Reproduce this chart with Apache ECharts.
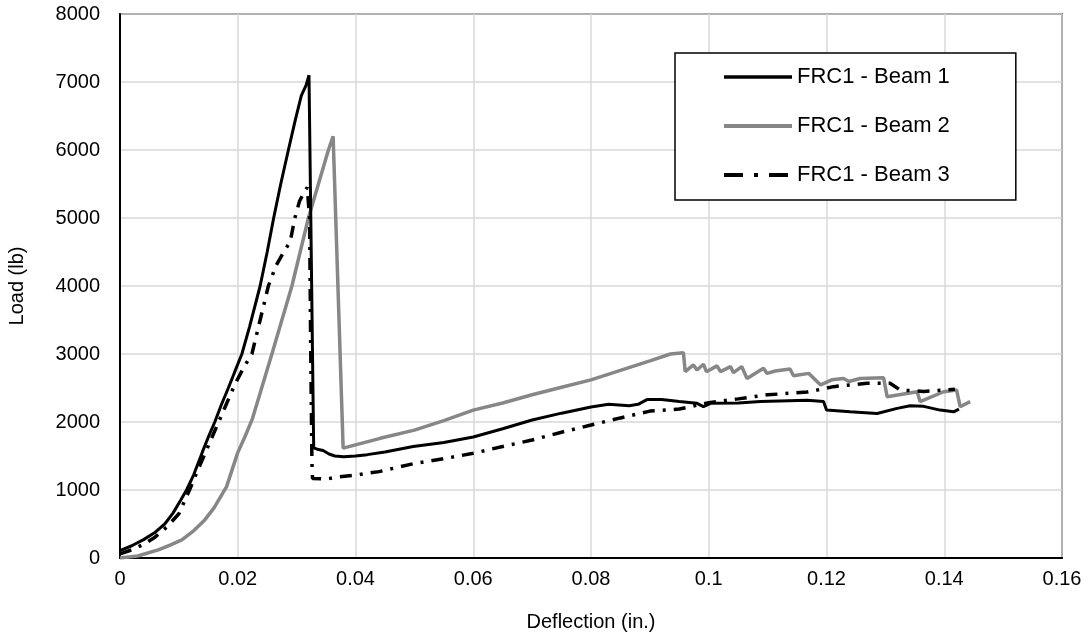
<!DOCTYPE html>
<html>
<head>
<meta charset="utf-8">
<script src="https://cdn.jsdelivr.net/npm/echarts@6/dist/echarts.min.js"></script>
<style>
  html, body { margin: 0; padding: 0; background: #fff; }
  #chart { width: 1088px; height: 641px; }
</style>
</head>
<body>
<div id="chart"></div>
<script>
// Series names
const seriesNames = ['FRC1 - Beam 1', 'FRC1 - Beam 2', 'FRC1 - Beam 3'];

// Deflection (in.), Load (lb) pairs
const beam1 = [
  [0,110],[0.002,180],[0.004,270],[0.006,380],[0.0076,500],[0.009,660],[0.0103,850],[0.0113,1000],
  [0.0125,1220],[0.014,1560],[0.0152,1820],[0.0161,2000],[0.0172,2250],[0.0184,2500],[0.0195,2740],
  [0.0207,3000],[0.022,3400],[0.0238,4000],[0.025,4500],[0.0261,5000],[0.0273,5500],[0.0286,6000],
  [0.0298,6450],[0.0308,6800],[0.0316,6950],[0.0321,7100],[0.0329,1620],[0.0335,1600],[0.0345,1580],
  [0.0355,1530],[0.0365,1500],[0.038,1490],[0.04,1500],[0.042,1520],[0.045,1560],[0.0498,1640],
  [0.055,1700],[0.06,1780],[0.065,1900],[0.07,2030],[0.075,2130],[0.08,2220],[0.083,2260],
  [0.0865,2240],[0.088,2260],[0.0895,2330],[0.092,2330],[0.095,2300],[0.098,2275],[0.0991,2225],
  [0.1003,2275],[0.105,2280],[0.1088,2300],[0.1167,2320],[0.1195,2300],[0.12,2175],[0.124,2150],
  [0.1286,2125],[0.132,2200],[0.1342,2240],[0.1365,2230],[0.1393,2175],[0.1416,2150],[0.1425,2190]
];
const beam2 = [
  [0,0],[0.003,30],[0.0065,120],[0.0085,190],[0.0105,265],[0.0125,400],[0.0144,560],[0.016,740],
  [0.0181,1050],[0.02,1550],[0.0212,1780],[0.0225,2050],[0.024,2480],[0.0258,3000],[0.0275,3500],
  [0.0292,4000],[0.0306,4500],[0.032,5000],[0.0337,5500],[0.0354,6000],[0.0362,6200],[0.0379,1615],
  [0.0442,1760],[0.05,1880],[0.055,2020],[0.06,2175],[0.065,2280],[0.07,2400],[0.075,2510],
  [0.08,2620],[0.085,2760],[0.09,2900],[0.0935,3000],[0.0957,3020],[0.096,2740],[0.0974,2840],
  [0.098,2765],[0.0991,2850],[0.0996,2740],[0.1014,2825],[0.102,2740],[0.1037,2815],[0.1042,2725],
  [0.1056,2815],[0.1065,2640],[0.1093,2790],[0.1099,2715],[0.1113,2750],[0.1138,2780],[0.1144,2680],
  [0.117,2715],[0.119,2545],[0.1209,2620],[0.1229,2640],[0.1238,2595],[0.1257,2640],[0.1297,2650],
  [0.1303,2370],[0.1354,2445],[0.1359,2300],[0.1399,2445],[0.1421,2470],[0.1427,2225],[0.1444,2300]
];
const beam3 = [
  [0,60],[0.002,120],[0.004,200],[0.006,310],[0.008,460],[0.01,650],[0.0118,1000],[0.0135,1350],
  [0.015,1650],[0.0165,1950],[0.018,2250],[0.0195,2550],[0.021,2800],[0.0224,3000],[0.0238,3500],
  [0.0252,4000],[0.0265,4300],[0.0278,4500],[0.0289,4650],[0.0297,5000],[0.0305,5250],[0.0314,5400],
  [0.0318,5450],[0.0322,5000],[0.0324,3000],[0.0326,1400],[0.0327,1170],[0.035,1160],[0.037,1190],
  [0.04,1220],[0.044,1270],[0.05,1390],[0.055,1460],[0.06,1540],[0.065,1640],[0.07,1735],
  [0.075,1850],[0.08,1955],[0.085,2060],[0.09,2160],[0.095,2190],[0.1,2285],[0.105,2340],
  [0.11,2400],[0.1167,2440],[0.1212,2520],[0.1269,2570],[0.1308,2570],[0.1325,2470],[0.1365,2450],
  [0.14,2470],[0.1418,2480]
];

// Axis settings
const xTicks = { min: 0, max: 0.16, interval: 0.02 };
const yTicks = { min: 0, max: 8000, interval: 1000 };

const FONT = 'Liberation Sans, Arial, sans-serif';
const TICK_FS = 20;
const chart = echarts.init(document.getElementById('chart'), null, { renderer: 'canvas' });

chart.setOption({
  animation: false,
  backgroundColor: '#fff',
  textStyle: { fontFamily: FONT, color: '#000' },
  grid: { left: 120, right: 26, top: 14, bottom: 83, show: true, borderColor: '#000', borderWidth: 1.5,
          containLabel: false, outerBoundsMode: 'none' },
  legend: {
    orient: 'vertical',
    left: 675, top: 53,
    padding: [13, 66, 14, 47],
    itemWidth: 68, itemHeight: 20, itemGap: 27,
    borderColor: '#000', borderWidth: 1.5,
    backgroundColor: '#fff',
    itemStyle: { opacity: 0 },
    textStyle: { fontFamily: FONT, fontSize: 22, color: '#000' },
    data: [
      { name: seriesNames[0], lineStyle: { width: 3.5 } },
      { name: seriesNames[1], lineStyle: { width: 4 } },
      { name: seriesNames[2], lineStyle: { width: 4, type: [19, 11, 4, 11] } }
    ]
  },
  xAxis: {
    type: 'value', min: xTicks.min, max: xTicks.max, interval: xTicks.interval,
    name: 'Deflection (in.)', nameLocation: 'middle', nameGap: 54,
    nameTextStyle: { fontFamily: FONT, fontSize: TICK_FS, color: '#000' },
    axisLine: { show: true, onZero: false, lineStyle: { color: '#000', width: 2 } },
    axisTick: { show: false },
    axisLabel: { fontFamily: FONT, fontSize: TICK_FS, color: '#000', margin: 11,
      formatter: v => String(+v.toFixed(4)) },
    splitLine: { show: true, lineStyle: { color: '#d9d9d9', width: 1.5 } }
  },
  yAxis: {
    type: 'value', min: yTicks.min, max: yTicks.max, interval: yTicks.interval,
    name: 'Load (lb)', nameLocation: 'middle', nameGap: 93,
    nameTextStyle: { fontFamily: FONT, fontSize: TICK_FS, color: '#000' },
    axisLine: { show: true, onZero: false, lineStyle: { color: '#000', width: 2 } },
    axisTick: { show: false },
    axisLabel: { fontFamily: FONT, fontSize: TICK_FS, color: '#000', margin: 20,
      formatter: v => String(v) },
    splitLine: { show: true, lineStyle: { color: '#d9d9d9', width: 1.5 } }
  },
  series: [
    { name: seriesNames[1], type: 'line', data: beam2, showSymbol: false, symbol: 'none',
      lineStyle: { color: '#878787', width: 3.5 }, itemStyle: { color: '#878787' }, z: 2 },
    { name: seriesNames[0], type: 'line', data: beam1, showSymbol: false, symbol: 'none',
      lineStyle: { color: '#000', width: 3 }, itemStyle: { color: '#000' }, z: 3 },
    { name: seriesNames[2], type: 'line', data: beam3, showSymbol: false, symbol: 'none',
      lineStyle: { color: '#000', width: 3.5, type: [12, 8, 3, 8] }, itemStyle: { color: '#000' }, z: 4 }
  ]
});
</script>
</body>
</html>
